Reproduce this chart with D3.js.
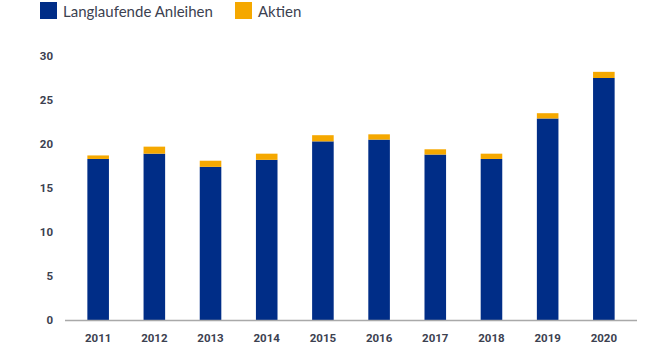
<!DOCTYPE html>
<html><head><meta charset="utf-8">
<script src="https://cdn.jsdelivr.net/npm/d3@7"></script>
<style>body{margin:0;background:#fff}svg{display:block}</style>
</head><body>
<svg id="c" width="650" height="359"></svg>
<script>
const years = ["2011","2012","2013","2014","2015","2016","2017","2018","2019","2020"];
const anleihen = [18.3, 18.9, 17.4, 18.2, 20.3, 20.5, 18.8, 18.3, 22.9, 27.5];
const aktien = [0.4, 0.8, 0.7, 0.7, 0.7, 0.6, 0.6, 0.6, 0.6, 0.7];
const yTicks = [0, 5, 10, 15, 20, 25, 30];
const seriesNames = ["Langlaufende Anleihen", "Aktien"];
const colors = ["#002d87", "#f5a800"];

const svg = d3.select("#c");
const x = d3.scaleBand().domain(years).range([65, 637]).paddingInner(0.616).paddingOuter(0.398);
const y = d3.scaleLinear().domain([0, 30]).range([320, 56]);

const data = years.map((yr, i) => ({year: yr, a: anleihen[i], b: aktien[i]}));
const stack = d3.stack().keys(["a", "b"])(data);

svg.append("g").selectAll("g").data(stack).join("g")
  .attr("fill", (d, i) => colors[i])
  .selectAll("rect").data(d => d).join("rect")
  .attr("x", d => x(d.data.year))
  .attr("width", x.bandwidth())
  .attr("y", d => y(d[1]))
  .attr("height", d => y(d[0]) - y(d[1]));

// baseline
svg.append("line").attr("x1", 65).attr("x2", 637).attr("y1", y(0) + 0.5).attr("y2", y(0) + 0.5)
  .attr("stroke", "#a9a9a9").attr("stroke-width", 1.5);

// y tick labels
const yAxis = d3.axisLeft(y).tickValues(yTicks).tickSize(0).tickPadding(0);
const gy = svg.append("g").attr("transform", "translate(53,0)").call(yAxis);
gy.select(".domain").remove();
gy.selectAll("text").attr("fill", "#3c4150").style("font-family", "Roboto").style("font-weight", "700").style("font-size", "11.5px");

// x tick labels
const xAxis = d3.axisBottom(x).tickSize(0).tickPadding(0);
const gx = svg.append("g").attr("transform", "translate(0,334)").call(xAxis);
gx.select(".domain").remove();
gx.selectAll("text").attr("fill", "#3c4150").style("font-family", "Roboto").style("font-weight", "700").style("font-size", "11.5px");

// legend
const legX = [40, 235];
seriesNames.forEach((n, i) => {
  svg.append("rect").attr("x", legX[i]).attr("y", 2).attr("width", 17).attr("height", 17).attr("fill", colors[i]);
  svg.append("text").attr("x", legX[i] + 23).attr("y", 16.5).text(n)
    .attr("fill", "#3c4150").style("font-family", "Lato").style("font-size", "15px");
});
</script>
</body></html>
